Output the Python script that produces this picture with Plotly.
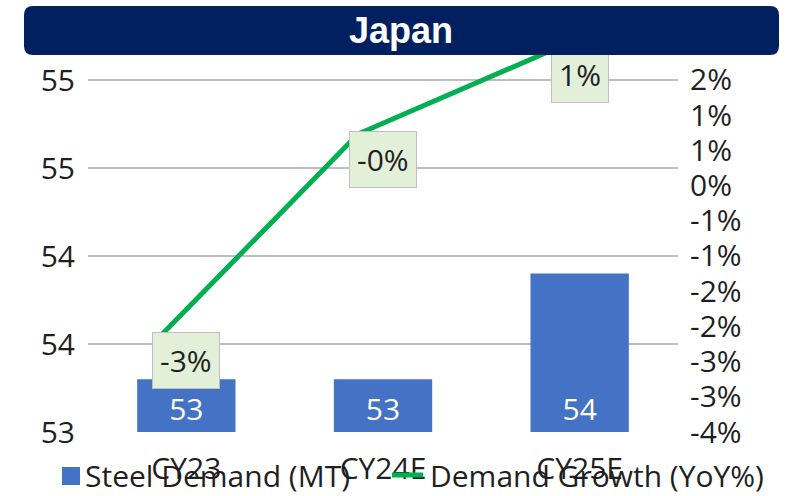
import plotly.graph_objects as go

# ---------------- data ----------------
categories = ["CY23", "CY24E", "CY25E"]
steel_demand_mt = [53.3, 53.3, 53.9]          # bars, left axis
demand_growth_pct = [-3.0, -0.4, 0.7]          # line, YoY %

left_tick_vals = [53, 53.5, 54, 54.5, 55]
left_tick_text = ["53", "54", "54", "55", "55"]
right_tick_vals = [-3.5, -3.0, -2.5, -2.0, -1.5, -1.0, -0.5, 0.0, 0.5, 1.0, 1.5]
right_tick_text = ["-4%", "-3%", "-3%", "-2%", "-2%", "-1%", "-1%", "0%", "1%", "1%", "2%"]

title_text = "Japan"
bar_name = "Steel Demand (MT)"
line_name = "Demand Growth (YoY%)"

# ---------------- styling ----------------
W, H = 797, 496
# plot box in screen pixels
PX0, PX1, PY0, PY1 = 88, 678, 45, 432
L, R, T, B = PX0, W - PX1, PY0, H - PY1
PW, PH = PX1 - PX0, PY1 - PY0

BAR_COLOR = "#4472C4"
LINE_COLOR = "#00B050"
NAVY = "#002060"
GRID = "#BFBFBF"
TXT = "#1f1f1f"
FONT = "Open Sans, sans-serif"
FS = 30

left_min = 53
left_range = [left_min, 55.199]
right_range = [-3.5, 1.997]
line_range = [-4.255, 0.752]
line_x_range = [-0.373, 2.627]


def px(x):
    return (x - PX0) / PW


def py(y):
    return (PY1 - y) / PH


fig = go.Figure()

fig.add_trace(go.Bar(
    x=categories, y=[v - left_min for v in steel_demand_mt], base=left_min,
    customdata=steel_demand_mt,
    marker=dict(color=BAR_COLOR, line=dict(width=0)),
    texttemplate="%{customdata:.0f}", textposition="inside",
    insidetextanchor="start", constraintext="none",
    textfont=dict(family=FONT, size=FS, color="white"),
    name=bar_name, showlegend=False, hoverinfo="skip",
    xaxis="x", yaxis="y",
))

fig.add_trace(go.Scatter(
    x=categories, y=demand_growth_pct, mode="lines",
    line=dict(color=LINE_COLOR, width=5),
    name=line_name, showlegend=False, hoverinfo="skip",
    xaxis="x2", yaxis="y3",
))

# invisible trace to activate the right axis
fig.add_trace(go.Scatter(x=[categories[0]], y=[right_tick_vals[0]], mode="markers",
                         marker=dict(opacity=0), yaxis="y2", xaxis="x",
                         showlegend=False, hoverinfo="skip"))

annotations = []
# data labels for the growth line
for c, v in zip(categories, demand_growth_pct):
    annotations.append(dict(
        x=c, y=v, xref="x", yref="y3", xanchor="center", yanchor="top",
        yshift=3, text=f"{v:.0f}%", showarrow=False,
        font=dict(family=FONT, size=FS, color=TXT),
        bgcolor="#E2F0D9", bordercolor="#BFBFBF", borderwidth=1, borderpad=7,
    ))

# legend texts
annotations.append(dict(
    x=px(84), y=py(476), xref="paper", yref="paper", xanchor="left",
    yanchor="middle", text=bar_name, showarrow=False, borderpad=0,
    font=dict(family=FONT, size=FS, color=TXT)))
annotations.append(dict(
    x=px(429), y=py(476), xref="paper", yref="paper", xanchor="left",
    yanchor="middle", text=line_name, showarrow=False, borderpad=0,
    font=dict(family=FONT, size=FS, color=TXT)))

# title text on a navy band (drawn last so it sits above the data labels)
annotations.append(dict(
    x=px(401), y=py(30.5), xref="paper", yref="paper", xanchor="center",
    yanchor="middle", text=f"<b>{title_text}</b>", showarrow=False,
    width=700, height=49, borderpad=0, borderwidth=0, bgcolor=NAVY,
    align="center", valign="middle",
    font=dict(family="Liberation Sans, Arial, sans-serif", size=36, color="white")))

# rounded banner path (screen pixels -> paper)
bx0, bx1, by0, by1, rr = 24, 779, 6, 55, 9
pts = [
    ("M", bx0 + rr, by0), ("L", bx1 - rr, by0), ("Q", bx1, by0, bx1, by0 + rr),
    ("L", bx1, by1 - rr), ("Q", bx1, by1, bx1 - rr, by1), ("L", bx0 + rr, by1),
    ("Q", bx0, by1, bx0, by1 - rr), ("L", bx0, by0 + rr), ("Q", bx0, by0, bx0 + rr, by0),
]
path = ""
for p in pts:
    cmd = p[0]
    coords = p[1:]
    s = []
    for i in range(0, len(coords), 2):
        s.append(f"{px(coords[i]):.5f},{py(coords[i+1]):.5f}")
    path += cmd + " ".join(s) + " "
path += "Z"

shapes = [
    dict(type="path", path=path, xref="paper", yref="paper",
         fillcolor=NAVY, line=dict(width=0), layer="above"),
    dict(type="rect", xref="paper", yref="paper",
         x0=px(62), x1=px(80), y0=py(467), y1=py(485),
         fillcolor=BAR_COLOR, line=dict(width=0), layer="above"),
    dict(type="line", xref="paper", yref="paper",
         x0=px(392), x1=px(423), y0=py(475), y1=py(475),
         line=dict(color=LINE_COLOR, width=5), layer="above"),
]

fig.update_layout(
    width=W, height=H, autosize=False,
    margin=dict(l=L, r=R, t=T, b=B, pad=0, autoexpand=False),
    paper_bgcolor="white", plot_bgcolor="white",
    showlegend=False,
    bargap=0.5,
    font=dict(family=FONT, size=FS, color=TXT),
    xaxis=dict(type="category", categoryorder="array", categoryarray=categories,
               range=[-0.5, 2.5], showgrid=False, zeroline=False, automargin=False,
               ticks="outside", ticklen=10, tickcolor="rgba(0,0,0,0)",
               tickfont=dict(family=FONT, size=FS, color=TXT), fixedrange=True),
    xaxis2=dict(type="category", categoryorder="array", categoryarray=categories,
                range=line_x_range, overlaying="x", visible=False, automargin=False,
                fixedrange=True),
    yaxis=dict(range=left_range, tickvals=left_tick_vals, ticktext=left_tick_text,
               showgrid=True, gridcolor=GRID, gridwidth=2, zeroline=False, automargin=False,
               ticks="outside", ticklen=6, tickcolor="rgba(0,0,0,0)",
               tickfont=dict(family=FONT, size=FS, color=TXT), fixedrange=True),
    yaxis2=dict(range=right_range, tickvals=right_tick_vals, ticktext=right_tick_text,
                overlaying="y", side="right", showgrid=False, zeroline=False,
                automargin=False,
                ticks="outside", ticklen=5, tickcolor="rgba(0,0,0,0)",
                tickfont=dict(family=FONT, size=FS, color=TXT), fixedrange=True),
    yaxis3=dict(range=line_range, overlaying="y", visible=False, automargin=False,
                fixedrange=True),
    annotations=annotations,
    shapes=shapes,
)

page_css = ("document.documentElement.style.margin='0';"
            "document.documentElement.style.overflow='hidden';"
            "document.body.style.margin='0';"
            "document.body.style.overflow='hidden';")

fig.write_html("out.html", post_script=page_css,
               config={"displayModeBar": False, "staticPlot": True})
